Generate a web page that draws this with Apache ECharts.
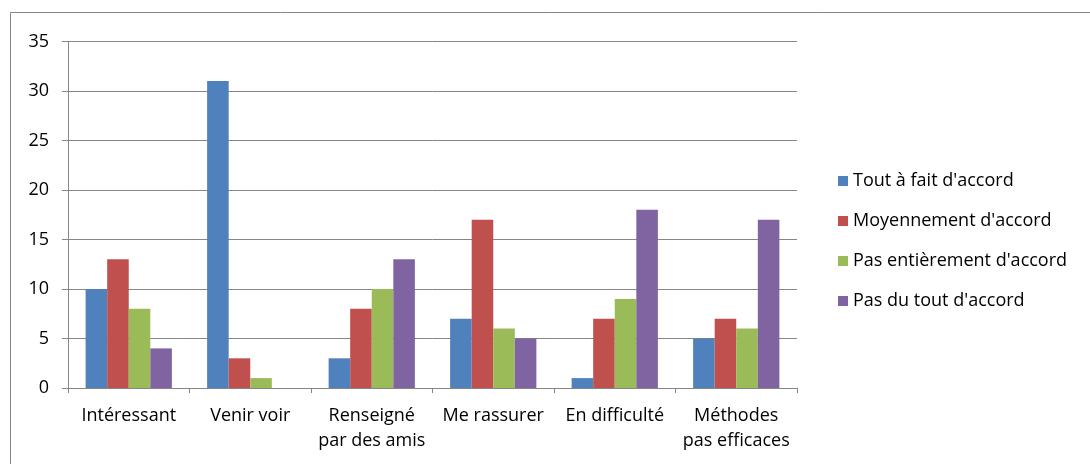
<!DOCTYPE html>
<html>
<head>
<meta charset="utf-8">
<script src="https://cdn.jsdelivr.net/npm/echarts@6/dist/echarts.min.js"></script>
<style>
  html, body { margin: 0; padding: 0; background: #fff; }
  #chart { width: 1090px; height: 464px; }
</style>
</head>
<body>
<div id="chart"></div>
<script>
  // categories and series values
  const categories = ['Intéressant', 'Venir voir', 'Renseigné\npar des amis', 'Me rassurer', 'En difficulté', 'Méthodes\npas efficaces']
  const seriesNames = ["Tout à fait d'accord", "Moyennement d'accord", "Pas entièrement d'accord", "Pas du tout d'accord"]
  const toutAFait = [10, 31, 3, 7, 1, 5]
  const moyennement = [13, 3, 8, 17, 7, 7]
  const pasEntierement = [8, 1, 10, 6, 9, 6]
  const pasDuTout = [4, 0, 13, 5, 18, 17]
  const colors = ['#4F81BD', '#C0504D', '#9BBB59', '#8064A2']

  const font = 'Open Sans, Liberation Sans, sans-serif'
  let myChart = echarts.init(document.getElementById('chart'))

  let values = [toutAFait, moyennement, pasEntierement, pasDuTout]
  let series = []
  for (let i = 0; i < values.length; i++) {
    series.push({
      name: seriesNames[i],
      type: 'bar',
      barGap: 0,
      barCategoryGap: '29%',
      data: values[i],
      itemStyle: { color: colors[i] }
    })
  }

  myChart.setOption({
    animation: false,
    color: colors,
    textStyle: { fontFamily: font },
    graphic: [{
      type: 'rect',
      shape: { x: 10.5, y: 12.5, width: 1100, height: 500 },
      style: { fill: 'none', stroke: '#868686', lineWidth: 1 },
      silent: true
    }],
    legend: {
      orient: 'vertical',
      left: 833,
      top: 166,
      itemWidth: 10,
      itemHeight: 10,
      itemGap: 20,
      icon: 'rect',
      textStyle: { fontSize: 18, lineHeight: 20, color: '#000', fontFamily: font },
      data: seriesNames
    },
    grid: { left: 68, right: 293, top: 41.5, bottom: 76 },
    xAxis: {
      type: 'category',
      data: categories,
      axisLine: { lineStyle: { color: '#868686', width: 1 } },
      axisTick: { show: true, length: 5, lineStyle: { color: '#868686' } },
      axisLabel: { color: '#000', fontSize: 18, margin: 15, lineHeight: 25, interval: 0 }
    },
    yAxis: {
      type: 'value',
      min: 0,
      max: 35,
      interval: 5,
      axisLine: { show: true, lineStyle: { color: '#868686' } },
      axisTick: { show: true, length: 6, inside: false, lineStyle: { color: '#868686' } },
      axisLabel: { color: '#000', fontSize: 18, margin: 19 },
      splitLine: { lineStyle: { color: '#868686', width: 1 } }
    },
    series: series
  })
</script>
</body>
</html>
